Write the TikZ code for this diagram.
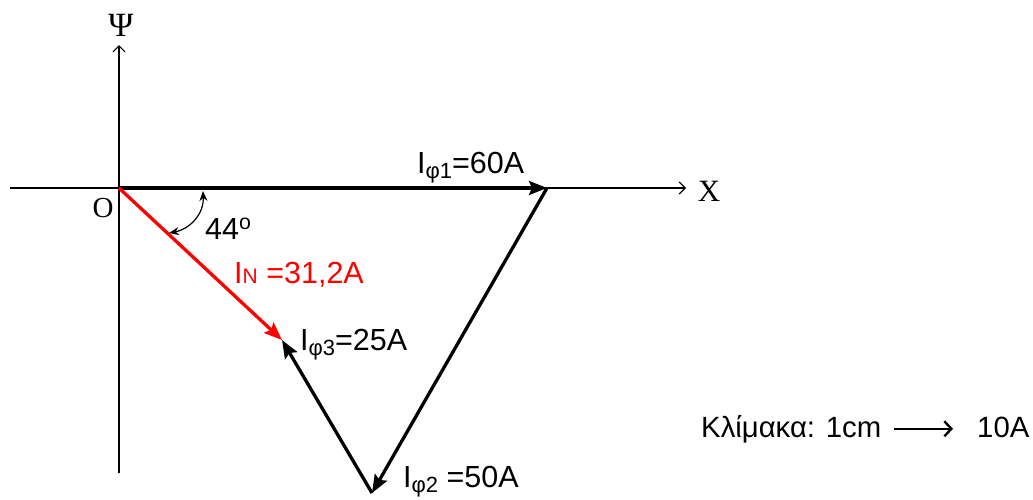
\documentclass[tikz,border=0pt]{standalone}
\usepackage{fontspec}
\setmainfont{Liberation Sans}
\newfontfamily\timesfont{Liberation Serif}
\usetikzlibrary{arrows.meta,positioning}
\newcommand{\sub}[1]{\raisebox{-5pt}{\fontsize{22}{22}\selectfont #1}}

\begin{document}
\begin{tikzpicture}[x=1pt,y=-1pt,>=Latex,every node/.style={font=\fontsize{30.5}{34}\selectfont,inner sep=0pt}]
  \useasboundingbox (0,0) rectangle (1033,499);
  \tikzset{axis/.style={line width=1.2pt,-{Straight Barb[length=6pt,width=12pt]}},
    vec/.style={line width=3.3pt,-{Stealth[length=18pt,width=14pt,inset=3pt]}},
    angarr/.style={line width=1.2pt,{Stealth[length=10pt,width=8pt]}-{Stealth[length=10pt,width=8pt]}},
    scalearr/.style={line width=2.4pt,-{Straight Barb[length=7pt,width=15pt]}},
    axlabel/.style={font=\timesfont\fontsize{31}{31}\selectfont}}
  % points of the phasor triangle
  \coordinate (O) at (119,188);
  \coordinate (P1) at (547,188);
  \coordinate (P2) at (372,493);
  \coordinate (P3) at (282,340);
  % axes
  \coordinate (xstart) at (10,188);
  \coordinate (xend) at (686,188);
  \coordinate (ybot) at (119,473);
  \coordinate (ytop) at (119,45);
  \draw[axis] (xstart) -- (xend);
  \draw[axis] (ybot) -- (ytop);
  \node[axlabel] (xlab) at (709,191) {X};
  \node[axlabel,font=\timesfont\fontsize{34}{34}\selectfont] (psi) at (121,25) {Ψ};
  \node[axlabel,font=\timesfont\fontsize{29}{29}\selectfont] (olab) at (103,208) {O};

  % phasors
  \draw[vec] (O) -- (P1);
  \draw[vec] (P1) -- (P2);
  \draw[vec] (P2) -- (P3);
  \draw[vec,red] (O) -- (P3);

  % angle
  \coordinate (atop) at (203,191);
  \coordinate (abot) at (169,233);
  \draw[angarr] (atop) .. controls (204,214) and (190,229) .. (abot);

  \node[anchor=base west] (lphi1) at (417,173) {I\sub{φ1}=60A};
  \node[anchor=base west] (langle) at (205,239) {44\textsuperscript{o}};
  \node[anchor=base west,text=red] (lin) at (234,283) {I{\fontsize{21}{21}\selectfont N} =31,2A};
  \node[anchor=base west] (lphi3) at (300,350) {I\sub{φ3}=25A};
  \node[anchor=base west] (lphi2) at (403,487) {I\sub{φ2} =50A};

  % scale
  \node[anchor=base west,font=\fontsize{29.3}{34}\selectfont] (scale) at (701,437) {Κλίμακα: 1cm};
  \node[anchor=base west,font=\fontsize{29.3}{34}\selectfont] (ten) at (977,437) {10A};
  \draw[scalearr] ([xshift=12pt]scale.east) -- ([xshift=-24pt]scale.east -| ten.west);
\end{tikzpicture}
\end{document}
